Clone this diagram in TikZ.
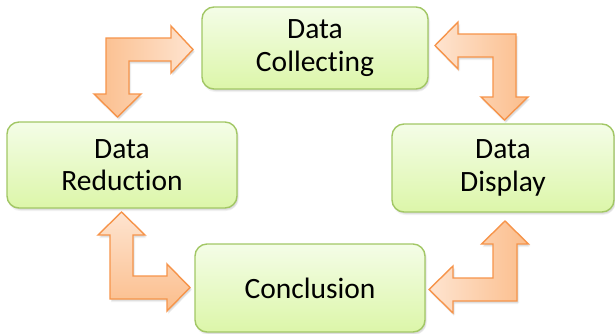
\documentclass[tikz,border=0pt]{standalone}
\usepackage{fontspec}
\setmainfont{Carlito}[Ligatures={NoCommon,NoContextual}]
\usetikzlibrary{shadows}
\definecolor{boxtop}{HTML}{F4FDE7}
\definecolor{boxbottom}{HTML}{DCF6A9}
\definecolor{boxedge}{HTML}{A2C765}
\definecolor{arrowdark}{HTML}{FBBD8B}
\definecolor{arrowpale}{HTML}{FEE4D0}
\definecolor{arrowedge}{HTML}{F6944A}
\tikzset{
  softshadow/.style={
    general shadow={fill=black,opacity=0.05,shadow xshift=1pt,shadow yshift=-3pt},
    general shadow={fill=black,opacity=0.05,shadow xshift=2pt,shadow yshift=-2pt},
    general shadow={fill=black,opacity=0.05,shadow xshift=1pt,shadow yshift=-1.5pt}},
  stagebox/.style={draw=boxedge,line width=1.4pt,rounded corners=12pt,
    top color=boxtop,bottom color=boxbottom,softshadow,
    align=center,font=\fontsize{29.5}{32.5}\selectfont,inner sep=0pt},
  bentarrow/.style={draw=arrowedge,line width=1.4pt,line join=miter,softshadow},
}
\begin{document}
\begin{tikzpicture}[x=1pt,y=-1pt]
\useasboundingbox (0,0) rectangle (615,333);

% the four stages
\node[stagebox,minimum width=226pt,minimum height=82pt] (collect) at (315,48) {Data\\Collecting};
\node[stagebox,minimum width=230pt,minimum height=86pt] (reduce) at (122,165) {Data\\Reduction};
\node[stagebox,minimum width=222pt,minimum height=88pt] (display) at (503,168) {Data\\Display};
\node[stagebox,minimum width=230pt,minimum height=88pt] (concl) at (310,288) {Conclusion};

% bent double arrows between neighbouring stages
% reduction <-> collecting
\draw[bentarrow,left color=arrowdark,right color=arrowpale]
  (106,38) -- (171,38) -- (171,26) -- (193,49.5) -- (171,73) -- (171,61)
  -- (129,61) -- (129,94) -- (141,94) -- (117.5,117) -- (94,94) -- (106,94) -- cycle;
% collecting <-> display
\draw[bentarrow,left color=arrowpale,right color=arrowdark]
  (516,34) -- (516,97) -- (528,97) -- (504.5,120) -- (481,97) -- (493,97)
  -- (493,57) -- (458,57) -- (458,69) -- (435,45.5) -- (458,22) -- (458,34) -- cycle;
% reduction <-> conclusion
\draw[bentarrow,top color=arrowpale,bottom color=arrowdark]
  (110,299) -- (110,235) -- (98,235) -- (121.5,212) -- (145,235) -- (133,235)
  -- (133,276) -- (167,276) -- (167,264) -- (190,287.5) -- (167,311) -- (167,299) -- cycle;
% conclusion <-> display
\draw[bentarrow,left color=arrowpale,right color=arrowdark]
  (517,301) -- (517,244) -- (528.5,244) -- (505,221) -- (481.5,244) -- (493,244)
  -- (493,278) -- (453,278) -- (453,266) -- (429,289.5) -- (453,313) -- (453,301) -- cycle;
\end{tikzpicture}
\end{document}
